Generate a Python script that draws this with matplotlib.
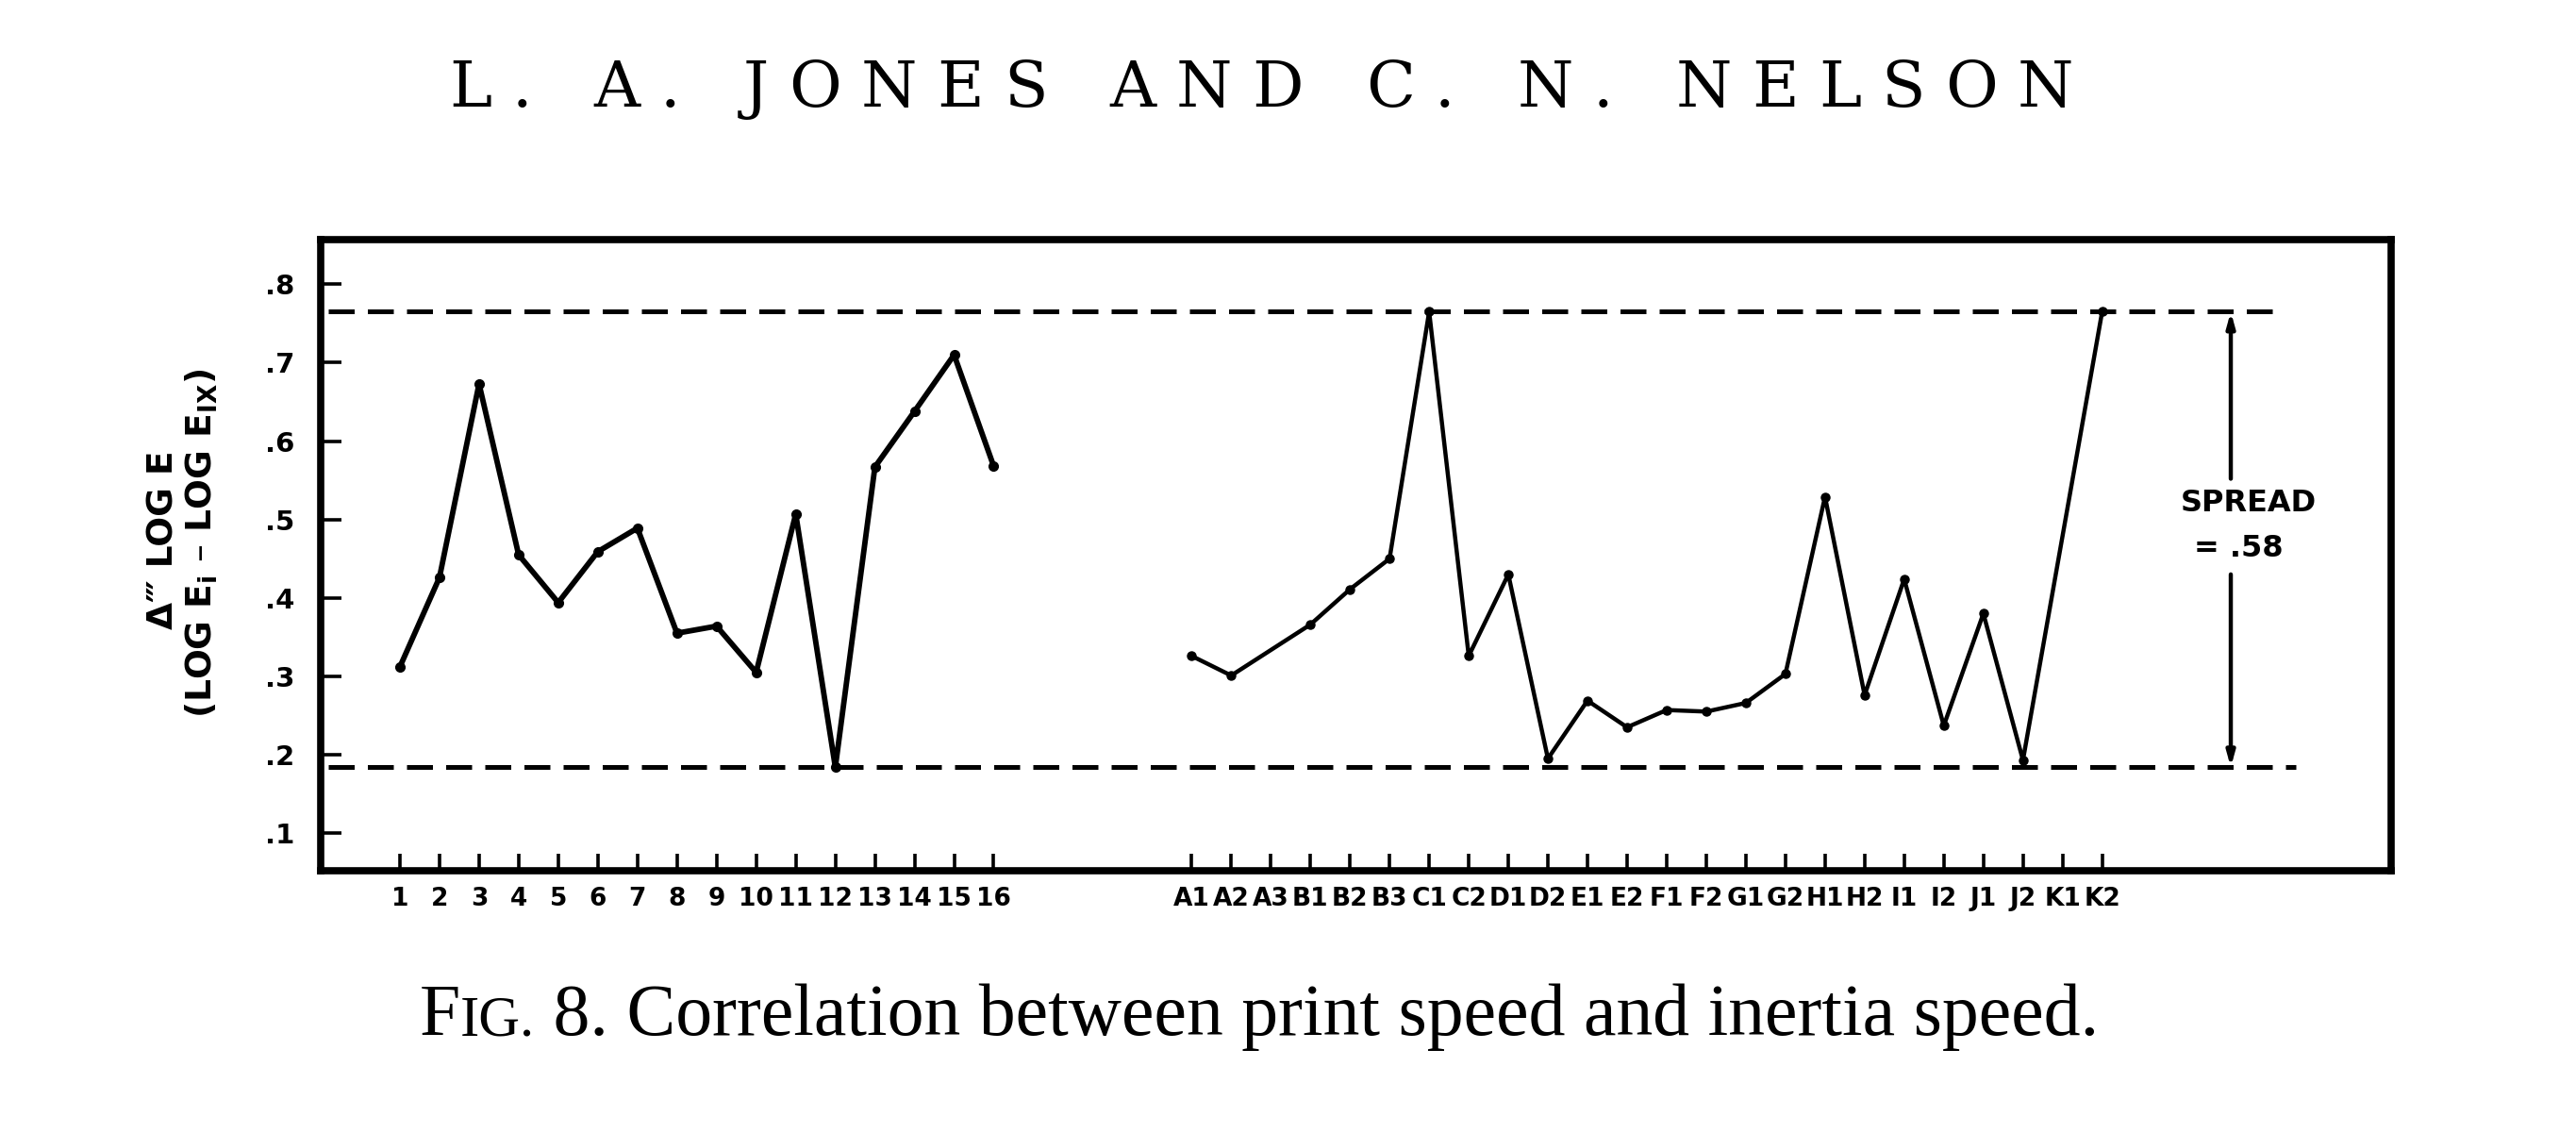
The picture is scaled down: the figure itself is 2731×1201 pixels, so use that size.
import numpy as np
import matplotlib
matplotlib.use("Agg")
import matplotlib.pyplot as plt

# ---------------- data ----------------
left_labels = [str(i) for i in range(1, 17)]
left_vals = [0.312, 0.426, 0.673, 0.455, 0.394, 0.459, 0.489, 0.355,
             0.364, 0.305, 0.507, 0.184, 0.567, 0.638, 0.710, 0.568]

right_labels = ['A1', 'A2', 'A3', 'B1', 'B2', 'B3', 'C1', 'C2', 'D1', 'D2',
                'E1', 'E2', 'F1', 'F2', 'G1', 'G2', 'H1', 'H2', 'I1', 'I2',
                'J1', 'J2', 'K1', 'K2']
right_vals = [0.326, 0.301, np.nan, 0.366, 0.411, 0.450, 0.765, 0.326,
              0.430, 0.195, 0.269, 0.235, 0.257, 0.255, 0.266, 0.303,
              0.529, 0.276, 0.424, 0.237, 0.380, 0.193, np.nan, 0.765]

y_ticks = [0.1, 0.2, 0.3, 0.4, 0.5, 0.6, 0.7, 0.8]
y_ticklabels = ['.1', '.2', '.3', '.4', '.5', '.6', '.7', '.8']

title_text = "L. A. JONES AND C. N. NELSON"
caption_pieces = [("F", 1.0), ("IG.", 0.78),
                  (" 8. Correlation between print speed and inertia speed.", 1.0)]

# ---------------- figure ----------------
W, H = 2731, 1201
fig = plt.figure(figsize=(W / 100, H / 100), dpi=100)
fig.patch.set_facecolor('white')

L, R, T, B = 340, 2535, 254, 923
ax = fig.add_axes([L / W, (H - B) / H, (R - L) / W, (B - T) / H])
ax.set_xlim(-1.0, 51.3)
ax.set_ylim(0.052, 0.857)

left_x = np.arange(1, len(left_labels) + 1)
right_x = np.arange(len(left_labels) + 5, len(left_labels) + 5 + len(right_labels))

lv = np.array(left_vals)
rv = np.array(right_vals)
ax.plot(left_x, lv, color='black', lw=4.2, marker='o', ms=7, solid_joinstyle='round')
m = ~np.isnan(rv)
ax.plot(right_x[m], rv[m], color='black', lw=3.2, marker='o', ms=6.5, solid_joinstyle='round')

allv = np.concatenate([lv, rv[m]])
upper, lower = np.nanmax(allv), np.nanmin(allv)
x0, x1 = ax.get_xlim()
def frac(x):
    return (x - x0) / (x1 - x0)
ax.axhline(upper, xmin=frac(-0.8), xmax=frac(48.4), color='black', lw=3.6,
           ls=(0, (5.5, 2.8)))
ax.axhline(lower, xmin=frac(-0.8), xmax=frac(48.9), color='black', lw=3.6,
           ls=(0, (5.5, 2.8)))

# spread annotation
arrow_x = 47.25
ax.annotate('', xy=(arrow_x, upper), xytext=(arrow_x, 0.552),
            arrowprops=dict(arrowstyle='-|>,head_width=0.25,head_length=0.9',
                            lw=3.2, color='black', shrinkA=0, shrinkB=0))
ax.annotate('', xy=(arrow_x, lower), xytext=(arrow_x, 0.43),
            arrowprops=dict(arrowstyle='-|>,head_width=0.25,head_length=0.9',
                            lw=3.2, color='black', shrinkA=0, shrinkB=0))
ax.text(47.7, 0.521, "SPREAD", ha='center', va='center', fontsize=23,
        fontweight='bold', family='DejaVu Sans')
ax.text(47.45, 0.463, "= .%02d" % round((upper - lower) * 100), ha='center',
        va='center', fontsize=23, fontweight='bold', family='DejaVu Sans')

# axes styling
for s in ax.spines.values():
    s.set_linewidth(5.5)
    s.set_color('black')
ax.set_xticks(np.concatenate([left_x, right_x]))
ax.set_xticklabels(left_labels + right_labels)
ax.set_yticks(y_ticks)
ax.set_yticklabels(y_ticklabels)
ax.tick_params(axis='x', direction='in', length=13, width=2.6, pad=12,
               labelsize=19)
ax.tick_params(axis='y', direction='in', length=16, width=2.6, pad=20,
               labelsize=21)
for lab in ax.get_xticklabels() + ax.get_yticklabels():
    lab.set_fontweight('bold')
    lab.set_family('DejaVu Sans')

# y label (two rotated lines)
fig.text(174 / W, 1 - 572 / H, "Δ‴ LOG E", rotation=90, ha='center', va='center',
         fontsize=27, fontweight='bold', family='DejaVu Sans')
fig.text(214 / W, 1 - 576 / H, r"(LOG E$_{\mathbf{i}}$ – LOG E$_{\mathbf{IX}}$)",
         rotation=90, ha='center', va='center', fontsize=27, fontweight='bold',
         family='DejaVu Sans')

# ---------------- title (letter-spaced) ----------------
renderer = fig.canvas.get_renderer()

def char_width(ch, size, family):
    t = fig.text(0, 0, ch, fontsize=size, family=family)
    w = t.get_window_extent(renderer).width
    t.remove()
    return w

def tracked(s, xc, yb, target_w, size, family, space_em=0.35):
    px_per_pt = 100 / 72
    ws = []
    for ch in s:
        if ch == ' ':
            ws.append(space_em * size * px_per_pt)
        else:
            ws.append(char_width(ch, size, family))
    track = (target_w - sum(ws)) / (len(s) - 1)
    x = xc - target_w / 2
    for ch, w in zip(s, ws):
        if ch != ' ':
            fig.text(x / W, 1 - yb / H, ch, fontsize=size, family=family,
                     ha='left', va='baseline')
        x += w + track

tracked(title_text, 1337, 113, 1722, 49, 'DejaVu Serif')

# ---------------- caption (small caps) ----------------
cap_size = 56
widths = []
for txt, sc in caption_pieces:
    t = fig.text(0, 0, txt, fontsize=cap_size * sc, family='Liberation Serif')
    widths.append(t.get_window_extent(renderer).width)
    t.remove()
total = sum(widths)
x = 1335 - total / 2
for (txt, sc), w in zip(caption_pieces, widths):
    fig.text(x / W, 1 - 1097 / H, txt, fontsize=cap_size * sc,
             family='Liberation Serif', ha='left', va='baseline')
    x += w

fig.savefig("out.png", dpi=100, facecolor='white')
